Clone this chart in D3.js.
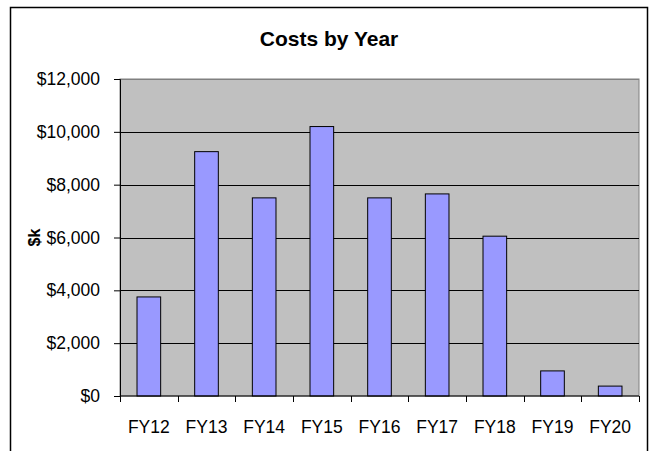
<!DOCTYPE html>
<html>
<head>
<meta charset="utf-8">
<script src="https://cdn.jsdelivr.net/npm/d3@7"></script>
<style>
  html, body { margin: 0; padding: 0; background: #fff; }
  svg { display: block; font-family: "Liberation Sans", Arial, sans-serif; }
</style>
</head>
<body>
<svg id="chart" width="650" height="451"></svg>
<script>
// Annual costs in thousands of dollars
const years = ["FY12", "FY13", "FY14", "FY15", "FY16", "FY17", "FY18", "FY19", "FY20"];
const costs = [3750, 9250, 7500, 10200, 7500, 7650, 6050, 950, 375];
const yTicks = [0, 2000, 4000, 6000, 8000, 10000, 12000];

const svg = d3.select("#chart");
const plot = { left: 120, right: 639, top: 79, bottom: 396 };

// Chart frame
svg.append("rect")
  .attr("x", 10.5).attr("y", 7.5)
  .attr("width", 637).attr("height", 460)
  .attr("fill", "#fff").attr("stroke", "#000").attr("stroke-width", 1.5);

const x = d3.scaleBand().domain(years).range([plot.left, plot.right]).paddingInner(0.59).paddingOuter(0.295);
const xEdges = d3.scaleBand().domain(years).range([plot.left, plot.right]);
const y = d3.scaleLinear().domain([0, 12000]).range([plot.bottom, plot.top]);

// Plot background
svg.append("rect")
  .attr("x", plot.left).attr("y", plot.top)
  .attr("width", plot.right - plot.left).attr("height", plot.bottom - plot.top)
  .attr("fill", "#c0c0c0").attr("stroke", "#808080").attr("stroke-width", 1);

// Gridlines
svg.append("g").selectAll("line").data(yTicks.filter(d => d > 0)).join("line")
  .attr("x1", plot.left).attr("x2", plot.right)
  .attr("y1", d => Math.round(y(d)) + 0.5).attr("y2", d => Math.round(y(d)) + 0.5)
  .attr("stroke", d => d === 12000 ? "#808080" : "#000").attr("stroke-width", 1);

// Bars
svg.append("g").selectAll("rect").data(costs).join("rect")
  .attr("x", (d, i) => x(years[i]))
  .attr("y", d => y(d))
  .attr("width", x.bandwidth())
  .attr("height", d => y(0) - y(d))
  .attr("fill", "#9999ff").attr("stroke", "#000").attr("stroke-width", 1);

// Y axis
const yAxis = d3.axisLeft(y).tickValues(yTicks).tickSize(6).tickPadding(14)
  .tickFormat(d => "$" + d3.format(",")(d));
const gy = svg.append("g").attr("transform", `translate(${plot.left},0)`).call(yAxis);
gy.select(".domain").attr("stroke", "#000");
gy.selectAll("line").attr("stroke", "#000");
gy.selectAll("text").attr("font-size", 17.5).attr("fill", "#000")
  .attr("font-family", "'Liberation Sans', Arial, sans-serif");

// X axis: ticks at category boundaries
const gx = svg.append("g").attr("transform", `translate(0,${plot.bottom})`);
gx.append("line").attr("x1", plot.left).attr("x2", plot.right).attr("stroke", "#000");
gx.selectAll("line.tick").data(years.concat(["end"])).join("line")
  .attr("class", "tick")
  .attr("x1", (d, i) => Math.round(plot.left + i * xEdges.step()) + 0.5)
  .attr("x2", (d, i) => Math.round(plot.left + i * xEdges.step()) + 0.5)
  .attr("y1", 0).attr("y2", 6).attr("stroke", "#000");
gx.selectAll("text").data(years).join("text")
  .attr("x", d => xEdges(d) + xEdges.bandwidth() / 2)
  .attr("y", 37)
  .attr("text-anchor", "middle").attr("font-size", 17.5).attr("fill", "#000")
  .text(d => d);

// Axis title
svg.append("text")
  .attr("transform", `translate(40,${(plot.top + plot.bottom) / 2}) rotate(-90)`)
  .attr("text-anchor", "middle").attr("font-size", 16).attr("font-weight", "bold")
  .text("$k");

// Chart title
svg.append("text")
  .attr("x", 329).attr("y", 46)
  .attr("text-anchor", "middle").attr("font-size", 21).attr("font-weight", "bold")
  .text("Costs by Year");
</script>
</body>
</html>
